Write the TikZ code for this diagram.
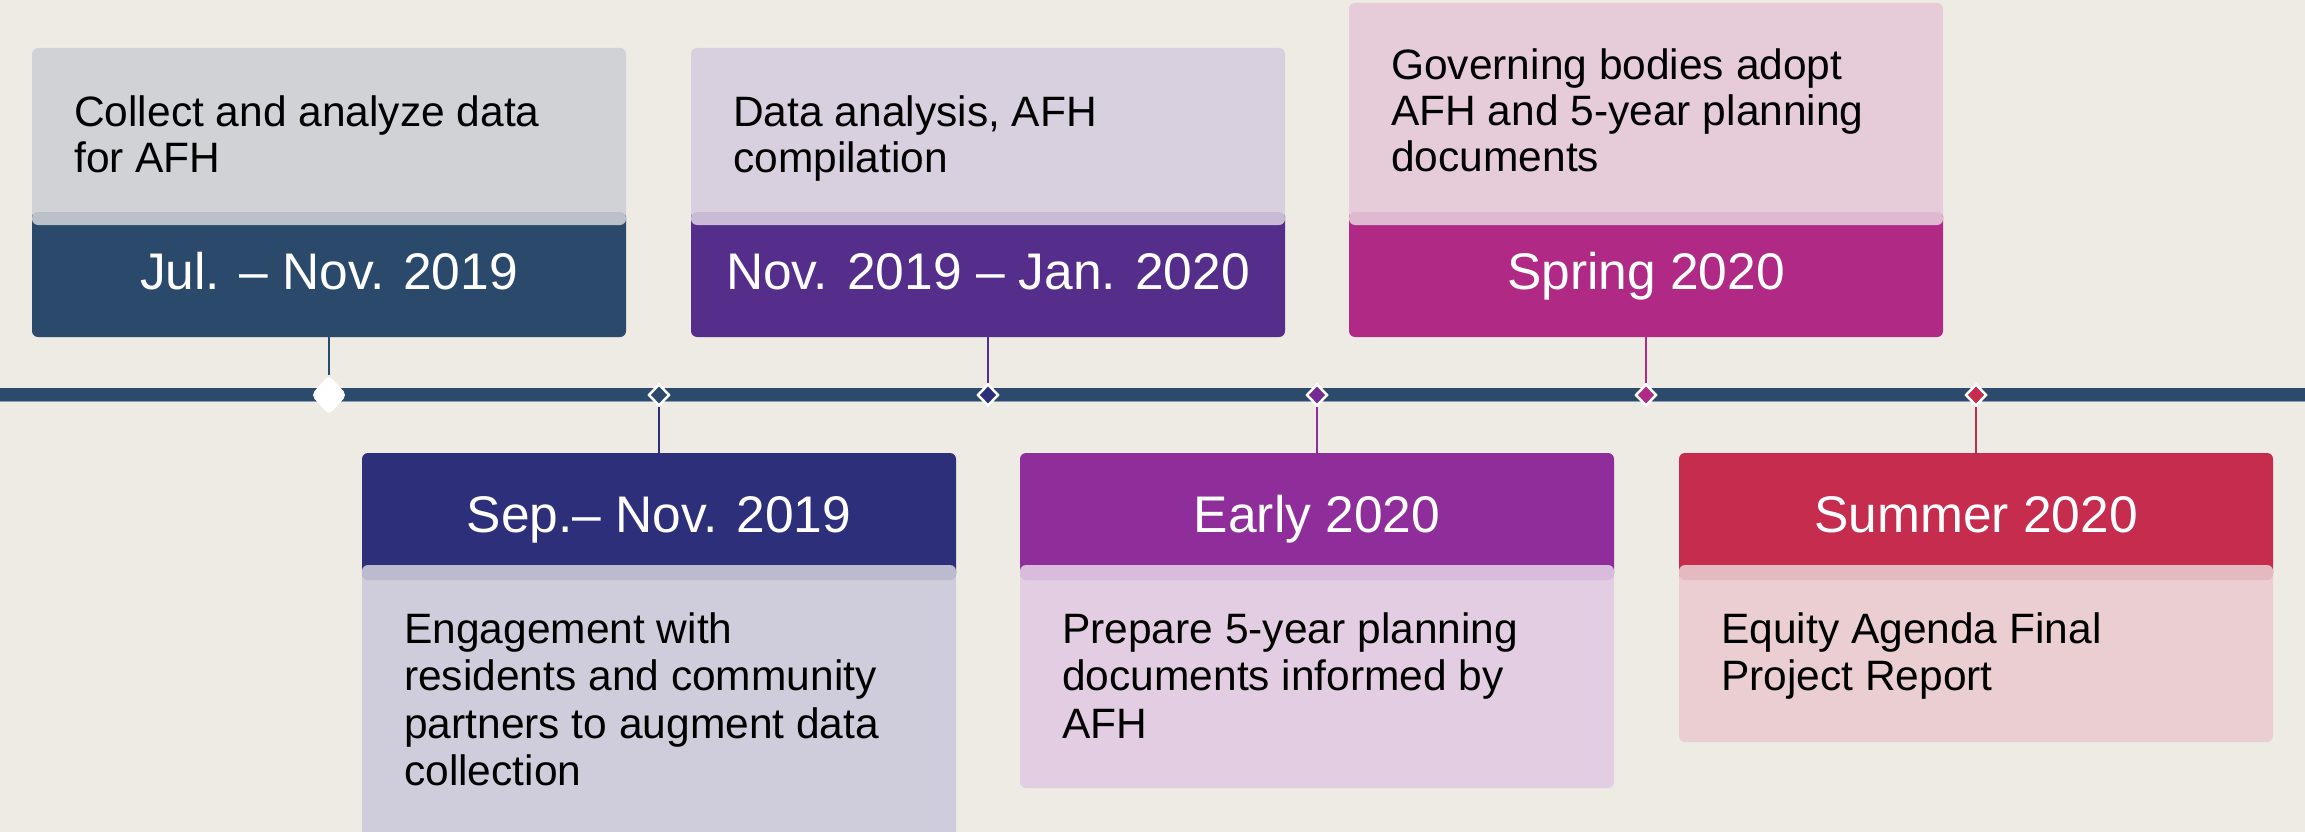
\documentclass[tikz,border=0pt]{standalone}
\usepackage{fontspec}
\setmainfont{Liberation Sans}
\usetikzlibrary{shapes.geometric}
\definecolor{bgc}{HTML}{EEEBE4}
\definecolor{barc}{HTML}{2C4A6B}
\definecolor{barlight}{HTML}{8A9DB3}
\definecolor{hA}{HTML}{2B4A6B}\definecolor{bA}{HTML}{D0D2D6}\definecolor{sA}{HTML}{BCC1C9}
\definecolor{hB}{HTML}{2E2F7A}\definecolor{bB}{HTML}{CFCDDB}\definecolor{sB}{HTML}{BBBACE}
\definecolor{hC}{HTML}{552D8A}\definecolor{bC}{HTML}{D8CFDF}\definecolor{sC}{HTML}{C9BBD5}
\definecolor{hD}{HTML}{8F2E9B}\definecolor{bD}{HTML}{E2CDE2}\definecolor{sD}{HTML}{D9BBDB}
\definecolor{hE}{HTML}{B02A85}\definecolor{bE}{HTML}{E6CCD9}\definecolor{sE}{HTML}{DEB9D0}
\definecolor{hF}{HTML}{C52C4E}\definecolor{bF}{HTML}{EBCED1}\definecolor{sF}{HTML}{E4BAC0}
\definecolor{mD}{HTML}{742C93}
\newcommand{\bodytext}[1]{\parbox[t]{530pt}{\fontsize{42.5}{46}\selectfont #1}}
\newcommand{\bodytextb}[1]{\parbox[t]{530pt}{\fontsize{42.5}{47.5}\selectfont #1}}
\begin{document}
\begin{tikzpicture}[x=1pt,y=-1pt,
  hdr/.style={rectangle, rounded corners=6pt, inner sep=0pt, minimum width=594pt,
    minimum height=127pt, text=white, font=\fontsize{51.5}{55}\selectfont,
    text height=36pt, text depth=5pt},
  bodybox/.style={rectangle, rounded corners=6pt, inner sep=0pt, minimum width=594pt},
  stripbox/.style={rectangle, rounded corners=6pt, inner sep=0pt, minimum width=594pt},
  txt/.style={anchor=base west, inner sep=0pt, text=black},
  bigmark/.style={diamond, fill=white, inner sep=0pt, minimum width=36pt,
    minimum height=40pt, rounded corners=5pt},
  smallmark/.style={diamond, draw=white, line width=2.5pt, inner sep=0pt,
    minimum width=21pt, minimum height=22pt},
  conn/.style={line width=2pt}
]
\useasboundingbox (0,0) rectangle (2305,832);
\fill[bgc] (0,0) rectangle (2305,832);

% timeline bar
\fill[barc] (0,388) rectangle (2305,402);
\draw[barlight, line width=1pt] (0,401.5) -- (2305,401.5);

% markers
\node[bigmark] (m1) at (329,395) {};
\node[smallmark, fill=barc] (m2) at (659,395) {};
\node[smallmark, fill=hB] (m3) at (988,395) {};
\node[smallmark, fill=mD] (m4) at (1317,395) {};
\node[smallmark, fill=hE] (m5) at (1646,395) {};
\node[smallmark, fill=hF] (m6) at (1976,395) {};

% ---- top boxes ----
% box 1
\node[hdr, fill=hA] (h1) at (329,273.5) {Jul. – Nov. 2019};
\node[bodybox, fill=bA, minimum height=171pt] (b1) at (329,133.5) {};
\node[stripbox, fill=sA, minimum height=13pt] (s1) at (329,218.5) {};
\node[txt] (t1) at (74,127) {\bodytext{Collect and analyze data\\for AFH}};
% box 3
\node[hdr, fill=hC] (h3) at (988,273.5) {Nov. 2019 – Jan. 2020};
\node[bodybox, fill=bC, minimum height=171pt] (b3) at (988,133.5) {};
\node[stripbox, fill=sC, minimum height=13pt] (s3) at (988,218.5) {};
\node[txt] (t3) at (733,127) {\bodytext{Data analysis, AFH\\compilation}};
% box 5
\node[hdr, fill=hE] (h5) at (1646,273.5) {Spring 2020};
\node[bodybox, fill=bE, minimum height=216pt] (b5) at (1646,111) {};
\node[stripbox, fill=sE, minimum height=13pt] (s5) at (1646,218.5) {};
\node[txt] (t5) at (1391,80) {\bodytext{Governing bodies adopt\\AFH and 5-year planning\\documents}};

% ---- bottom boxes ----
% box 2
\node[hdr, fill=hB] (h2) at (659,516.5) {Sep.– Nov. 2019};
\node[bodybox, fill=bB, minimum height=270pt] (b2) at (659,707) {};
\node[stripbox, fill=sB, minimum height=15pt] (s2) at (659,572.5) {};
\node[txt] (t2) at (404,643) {\bodytextb{Engagement with\\residents and community\\partners to augment data\\collection}};
% box 4
\node[hdr, fill=hD] (h4) at (1317,516.5) {Early 2020};
\node[bodybox, fill=bD, minimum height=216pt] (b4) at (1317,680) {};
\node[stripbox, fill=sD, minimum height=15pt] (s4) at (1317,572.5) {};
\node[txt] (t4) at (1062,643) {\bodytextb{Prepare 5-year planning\\documents informed by\\AFH}};
% box 6
\node[hdr, fill=hF] (h6) at (1976,516.5) {Summer 2020};
\node[bodybox, fill=bF, minimum height=170pt] (b6) at (1976,657) {};
\node[stripbox, fill=sF, minimum height=15pt] (s6) at (1976,572.5) {};
\node[txt] (t6) at (1721,643) {\bodytextb{Equity Agenda Final\\Project Report}};

% connectors
\draw[conn, hA] (h1.south) -- (m1.north);
\draw[conn, hB] (m2.south) -- (h2.north);
\draw[conn, hC] (h3.south) -- (m3.north);
\draw[conn, hD] (m4.south) -- (h4.north);
\draw[conn, hE] (h5.south) -- (m5.north);
\draw[conn, hF] (m6.south) -- (h6.north);
\end{tikzpicture}
\end{document}
